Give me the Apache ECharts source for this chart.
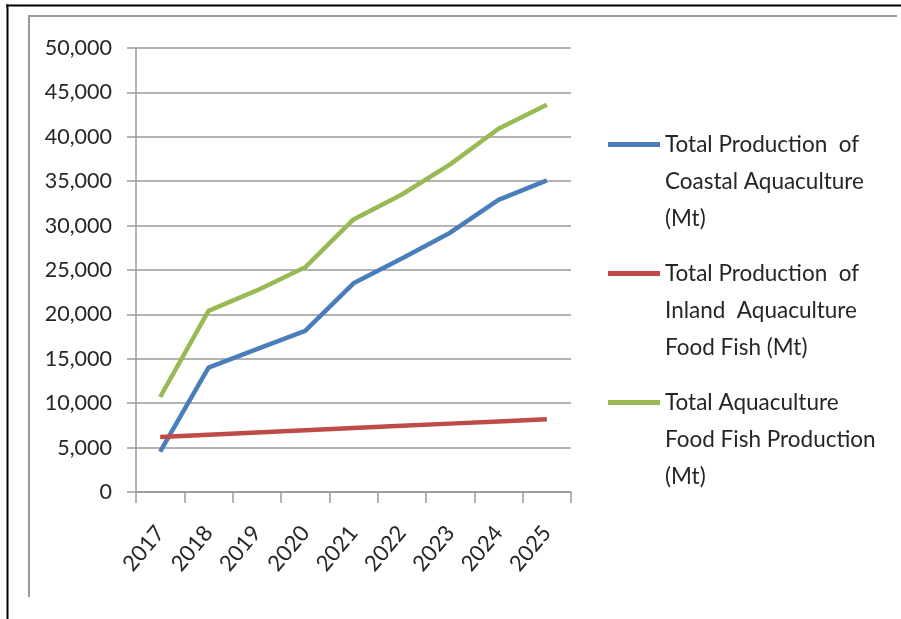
<!DOCTYPE html>
<html lang="en">
<head>
    <meta charset="UTF-8">
    <title>Aquaculture Production</title>
    <script src="https://cdn.jsdelivr.net/npm/echarts@6/dist/echarts.min.js"></script>
    <style>
        html, body { margin: 0; padding: 0; background: #fff; }
        #chart { width: 901px; height: 619px; }
    </style>
</head>
<body>
    <div id="chart"></div>
    <script>
        // data
        const years = ['2017', '2018', '2019', '2020', '2021', '2022', '2023', '2024', '2025'];
        const coastal = [4550, 14000, 16100, 18150, 23500, 26300, 29200, 32900, 35100];
        const inland = [6200, 6450, 6700, 6950, 7200, 7450, 7700, 7950, 8200];
        const total = [10700, 20400, 22700, 25300, 30700, 33500, 36900, 40900, 43600];
        const seriesNames = [
            'Total Production  of\nCoastal Aquaculture\n(Mt)',
            'Total Production  of\nInland  Aquaculture\nFood Fish (Mt)',
            'Total Aquaculture\nFood Fish Production\n(Mt)'
        ];
        const colors = ['#4a7ebb', '#be4b48', '#98b954'];

        const font = 'Lato, "Open Sans", sans-serif';
        const grey = '#9a9a9a';
        const lineH = 37;

        const chart = echarts.init(document.getElementById('chart'));

        const option = {
            animation: false,
            backgroundColor: '#fff',
            color: colors,
            textStyle: { fontFamily: font },
            grid: {
                left: 136, right: 330, top: 48, bottom: 127,
                containLabel: false,
                outerBoundsMode: 'none'
            },
            legend: {
                orient: 'vertical',
                left: 608,
                top: 52,
                padding: 0,
                itemGap: -56,
                itemWidth: 52,
                itemHeight: 5,
                icon: 'rect',
                selectedMode: false,
                // two blank lines on top so the first line sits beside the icon
                formatter: name => '\n\n' + name,
                textStyle: {
                    fontSize: 22.5,
                    color: '#262626',
                    lineHeight: lineH
                },
                data: seriesNames
            },
            xAxis: {
                type: 'category',
                data: years,
                boundaryGap: true,
                axisLine: { lineStyle: { color: grey, width: 1.5 } },
                axisTick: { show: true, length: 11, lineStyle: { color: grey, width: 1.5 } },
                axisLabel: {
                    rotate: 50,
                    margin: 37,
                    fontSize: 22,
                    color: '#262626',
                    interval: 0
                }
            },
            yAxis: {
                type: 'value',
                min: 0,
                max: 50000,
                interval: 5000,
                axisLine: { show: true, lineStyle: { color: grey, width: 1.5 } },
                axisTick: { show: true, length: 9, lineStyle: { color: grey, width: 1.5 } },
                splitLine: { lineStyle: { color: grey, width: 1.5 } },
                axisLabel: {
                    margin: 24,
                    fontSize: 21.5,
                    color: '#262626',
                    formatter: v => v.toLocaleString('en-US')
                }
            },
            series: [coastal, inland, total].map((vals, i) => ({
                name: seriesNames[i],
                type: 'line',
                data: vals,
                symbol: 'none',
                lineStyle: { width: 4.5, color: colors[i] },
                itemStyle: { color: colors[i] }
            })),
            graphic: [
                // outer black frame (top and left)
                { type: 'rect', shape: { x: 6, y: 4.5, width: 895, height: 2 }, style: { fill: '#000' } },
                { type: 'rect', shape: { x: 6.5, y: 4.5, width: 2, height: 615 }, style: { fill: '#000' } },
                // chart area border
                { type: 'rect', shape: { x: 28, y: 15, width: 869, height: 2 }, style: { fill: grey } },
                { type: 'rect', shape: { x: 28, y: 15, width: 2, height: 582 }, style: { fill: grey } }
            ]
        };

        chart.setOption(option);
    </script>
</body>
</html>
